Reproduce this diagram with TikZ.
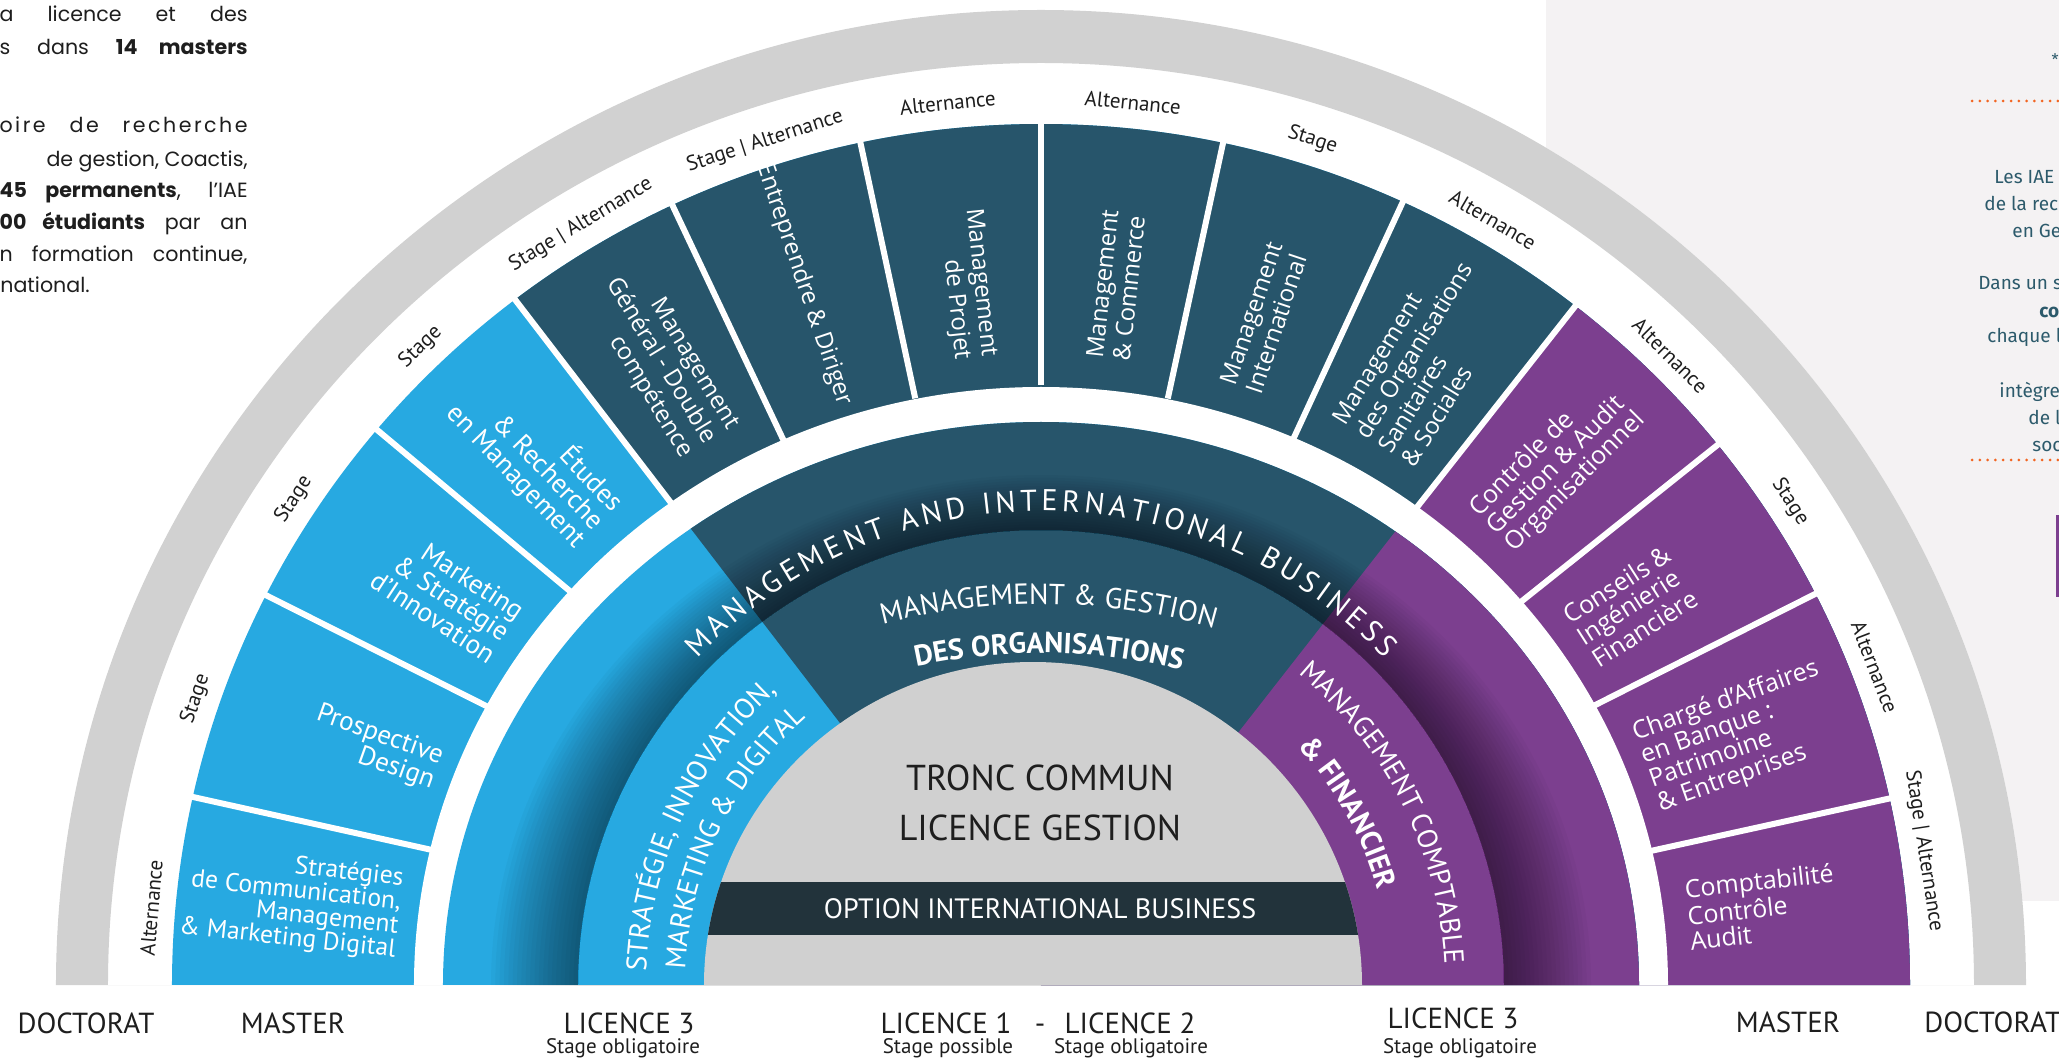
\documentclass[tikz,border=0pt]{standalone}
\usepackage{fontspec}
\setmainfont{PT Sans}
\newfontfamily\osans{Open Sans}
\newfontfamily\popp{Poppins}
\newfontfamily\fira{Fira Sans}
\usetikzlibrary{decorations.text}
\definecolor{cblue}{HTML}{27A9E1}
\definecolor{cteal}{HTML}{27556B}
\definecolor{cpurp}{HTML}{7C3F8F}
\definecolor{cgray}{HTML}{D1D1D1}
\definecolor{ccore}{HTML}{D0D0D0}
\definecolor{cbar}{HTML}{22333B}
\definecolor{cpanel}{HTML}{F4F2F3}
\definecolor{cptext}{HTML}{2C5A6B}
\definecolor{corange}{HTML}{F26522}
\definecolor{ctext}{HTML}{1E1E1E}
\begin{document}
\begin{tikzpicture}[x=0.5pt,y=0.5pt,
  rimlabel/.style={font=\fontsize{10.5pt}{12pt}\selectfont, text=ctext, inner sep=0pt},
  secleft/.style={anchor=east, align=right, text=white, inner sep=0pt},
  secright/.style={anchor=west, align=left, text=white, inner sep=0pt},
  bluefont/.style={font=\fontsize{13.5pt}{13pt}\selectfont},
  tealfont/.style={font=\osans\fontsize{12pt}{13.5pt}\selectfont},
  purpfont/.style={font=\osans\fontsize{12.5pt}{12.5pt}\selectfont},
  levellabel/.style={font=\fontsize{14.5pt}{16pt}\selectfont, text=ctext, inner sep=0pt, anchor=base},
  levelsub/.style={font=\fontsize{10.5pt}{12pt}\selectfont, text=ctext, inner sep=0pt, anchor=base},
  sepline/.style={white, line width=3pt},
  paneltext/.style={font=\fira\fontsize{9.5pt}{11pt}\selectfont, text=cptext, anchor=base west, inner sep=0pt},
  bodytext/.style={font=\popp\fontsize{10.3pt}{12pt}\selectfont, text=ctext, inner sep=0pt, anchor=base east},
  arctext/.style={decorate, decoration={text along path, text color=white, #1}},
]
\useasboundingbox (-1041,-76) rectangle (1018,985);
% right panel
\fill[cpanel] (505,84) rectangle (1018,985);
% white disc and outer grey ring
\fill[white] (985,0) arc[start angle=0,end angle=180,x radius=985,y radius=975] -- cycle;
\fill[cgray, even odd rule] (985,0) arc[start angle=0,end angle=180,x radius=985,y radius=975] -- cycle
  (933,0) arc[start angle=0,end angle=180,x radius=933,y radius=922] -- cycle;
% master ring
\begin{scope}
  \clip (869,0) arc[start angle=0,end angle=180,x radius=869,y radius=861] -- cycle;
  \fill[cblue] (-900,0) rectangle (900,900);
  \fill[cteal] (0,0) -- (127.5:1300) -- (90:1300) -- (0:1300) -- cycle;
  \fill[cpurp] (0,0) -- (51.8:1300) -- (0:1300) -- cycle;
\end{scope}
\fill[white] (627,0) arc[start angle=0,end angle=180,x radius=627,y radius=598] -- cycle;
\foreach \a in {167.5,153.3,140.1,127.5,115.3,102.1,90,77.8,65.2,51.8,38.6,26.8,12.4}
  \draw[sepline] (\a:600) -- (\a:878);
% licence 3 ring
\begin{scope}
  \clip (598,0) arc[start angle=0,end angle=180,x radius=598,y radius=563] -- cycle;
  \fill[cblue] (-700,0) rectangle (700,700);
  \fill[cteal] (0,0) -- (127.5:900) -- (90:900) -- (0:900) -- cycle;
  \fill[cpurp] (0,0) -- (52:900) -- (0:900) -- cycle;
  \foreach \i in {0,...,19}{
    \pgfmathsetmacro\rxs{550-4.35*\i}
    \pgfmathsetmacro\rys{510-2.75*\i}
    \fill[black, fill opacity=0.026, even odd rule] (\rxs,0) arc[start angle=0,end angle=180,x radius=\rxs,y radius=\rys] -- cycle
      (463,0) arc[start angle=0,end angle=180,x radius=463,y radius=455] -- cycle;
  }
\end{scope}
% core
\fill[ccore] (321,0) arc[start angle=0,end angle=180,x radius=329,y radius=323] -- cycle;
\begin{scope}
  \clip (321,0) arc[start angle=0,end angle=180,x radius=329,y radius=323] -- cycle;
  \fill[cbar] (-400,50) rectangle (400,103);
\end{scope}
\node[font=\fontsize{18pt}{20pt}\selectfont, text=ctext, anchor=base, inner sep=0pt] (tronc) at (-1,195) {TRONC COMMUN};
\node[font=\fontsize{18pt}{20pt}\selectfont, text=ctext, anchor=base, inner sep=0pt] (licg) at (-1,145) {LICENCE GESTION};
\node[font=\fontsize{14pt}{16pt}\selectfont, text=white, anchor=base, inner sep=0pt] (opt) at (-1,67) {OPTION INTERNATIONAL BUSINESS};
% arc texts
\path[arctext={text={|\fontsize{15pt}{16pt}\selectfont|MANAGEMENT AND INTERNATIONAL BUSINESS}, text align={fit to path}}] (136.5:474) arc[start angle=136.5,end angle=43.5,radius=474];
\path[arctext={text={|\fontsize{14.5pt}{15pt}\selectfont|MANAGEMENT {\&} GESTION}, text align=center}] (0,-250) ++(111.3:631) arc[start angle=111.3,end angle=67.3,radius=631];
\path[arctext={text={|\bfseries\fontsize{14.5pt}{15pt}\selectfont|DES ORGANISATIONS}, text align=center}] (0,-250) ++(111.2:582) arc[start angle=111.2,end angle=67.2,radius=582];
\path[arctext={text={|\fontsize{14.2pt}{15pt}\selectfont|STRATÉGIE, INNOVATION,}, text align=left}] (178:395) arc[start angle=178,end angle=118,radius=395];
\path[arctext={text={|\fontsize{14.2pt}{15pt}\selectfont|MARKETING {\&} DIGITAL}, text align=left}] (177.5:356) arc[start angle=177.5,end angle=118,radius=356];
\path[arctext={text={|\fontsize{14pt}{15pt}\selectfont|MANAGEMENT COMPTABLE}, text align=left}] (50.5:404) arc[start angle=50.5,end angle=-3,radius=404];
\path[arctext={text={|\bfseries\fontsize{14.5pt}{15pt}\selectfont|{\&} FINANCIER}, text align=left}] (43:350) arc[start angle=43,end angle=5,radius=350];
% master sector names
\node[secleft, font=\fontsize{12.8pt}{12pt}\selectfont, rotate=353.75] (m1) at (173.75:645) {Stratégies\\de Communication,\\Management\\\& Marketing Digital};
\node[secleft, bluefont, rotate=340.4] (m2) at (160.4:640) {Prospective\\Design};
\node[secleft, bluefont, rotate=326.7] (m3) at (146.7:638) {Marketing\\\& Stratégie\\d’Innovation};
\node[secleft, bluefont, rotate=313.8] (m4) at (133.8:637) {Études\\\& Recherche\\en Management};
\node[secleft, tealfont, rotate=301.4] (m5) at (121.4:636) {Management\\Général - Double\\compétence};
\node[secleft, tealfont, rotate=288.7] (m6) at (108.7:612) {Entreprendre \& Diriger};
\node[secleft, tealfont, rotate=276.05] (m7) at (96.05:630) {Management\\de Projet};
\node[secright, tealfont, rotate=83.9] (m8) at (83.9:629) {Management\\\& Commerce};
\node[secright, tealfont, rotate=71.5] (m9) at (71.5:629) {Management\\International};
\node[secright, tealfont, rotate=58.5] (m10) at (58.5:635) {Management\\des Organisations\\Sanitaires\\\& Sociales};
\node[secright, purpfont, rotate=45.2] (m11) at (45.2:640) {Contrôle de\\Gestion \& Audit\\Organisationnel};
\node[secright, purpfont, rotate=32.7] (m12) at (32.7:640) {Conseils \&\\Ingénierie\\Financière};
\node[secright, purpfont, rotate=19.6] (m13) at (19.6:642) {Chargé d’Affaires\\en Banque :\\Patrimoine\\\& Entreprises};
\node[secright, purpfont, rotate=6.2] (m14) at (6.2:650) {Comptabilité\\Contrôle\\Audit};
% rim labels
\foreach \a/\t [count=\i] in {175/Alternance, 161.2/Stage, 146.8/Stage, 134/Stage, 121/Stage | Alternance, 108/Stage | Alternance, 96/Alternance, 84.1/Alternance, 72.3/Stage, 59.6/Alternance, 45.2/Alternance, 33/Stage, 21/Alternance, 8.7/Stage | Alternance}
  \node[rimlabel, rotate=\a-90] (rim\i) at (\a:893 and 887) {\t};
% level labels
\node[levellabel] (doc1) at (-955,-48) {DOCTORAT};
\node[levellabel] (mas1) at (-748,-48) {MASTER};
\node[levellabel] (l3a) at (-412,-48) {LICENCE 3};
\node[levelsub] (l3as) at (-418,-68) {Stage obligatoire};
\node[levellabel] (l1) at (-95,-48) {LICENCE 1};
\node[levelsub] (l1s) at (-93,-68) {Stage possible};
\node[levellabel] (dash) at (-1,-48) {-};
\node[levellabel] (l2) at (89,-48) {LICENCE 2};
\node[levelsub] (l2s) at (90,-68) {Stage obligatoire};
\node[levellabel] (l3b) at (412,-43) {LICENCE 3};
\node[levelsub] (l3bs) at (419,-68) {Stage obligatoire};
\node[levellabel] (mas2) at (747,-47) {MASTER};
\node[levellabel, anchor=base west] (doc2) at (883,-47) {DOCTORAT};
% left text block
\begin{scope}
  \clip (-1041,600) rectangle (-700,985);
  \node[bodytext] (t1) at (-793,963) {\makebox[124pt][s]{a licence et des}};
  \node[bodytext] (t2) at (-793,930) {\makebox[124pt][s]{s dans \textbf{14 masters}}};
  \node[bodytext] (t3) at (-793,852) {\makebox[124pt][s]{\addfontfeatures{LetterSpace=12}oire de recherche}};
  \node[bodytext] (t4) at (-793,818) {de gestion, Coactis,};
  \node[bodytext] (t5) at (-793,787) {\makebox[124pt][s]{\textbf{45 permanents}, l’IAE}};
  \node[bodytext] (t6) at (-793,755) {\makebox[124pt][s]{\textbf{00 étudiants} par an}};
  \node[bodytext] (t7) at (-793,723) {\makebox[124pt][s]{n formation continue,}};
  \node[bodytext, anchor=base west] (t8) at (-1041,692) {national.};
\end{scope}
% right panel content
\begin{scope}
  \clip (505,84) rectangle (1018,985);
  \node[text=cptext, font=\fira\fontsize{8pt}{9pt}\selectfont, inner sep=0pt] (star) at (1014,925) {*};
  \draw[corange, line width=1.5pt, line cap=round, dash pattern=on 0pt off 3.9pt] (931,884) -- (1018,884);
  \draw[corange, line width=1.5pt, line cap=round, dash pattern=on 0pt off 3.9pt] (931,525) -- (1018,525);
  \node[paneltext] (p1) at (953,801) {Les IAE};
  \node[paneltext] (p2) at (943,774) {de la rech};
  \node[paneltext] (p3) at (971,747) {en Ge};
  \node[paneltext] (p4) at (937,695) {Dans un s};
  \node[paneltext] (p5) at (998,667) {\textbf{co}};
  \node[paneltext] (p6) at (946,642) {chaque l};
  \node[paneltext] (p7) at (958,587) {intègre};
  \node[paneltext] (p8) at (987,560) {de l};
  \node[paneltext] (p9) at (991,533) {soc};
  \fill[cpurp] (1015,388) rectangle (1018,470);
\end{scope}
\end{tikzpicture}
\end{document}
